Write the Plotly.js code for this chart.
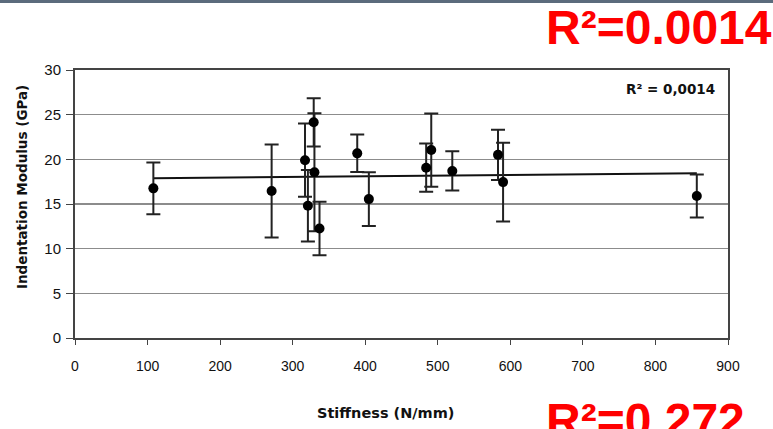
<!DOCTYPE html>
<html>
<head>
<meta charset="utf-8">
<script src="https://cdn.plot.ly/plotly-3.0.1.min.js"></script>
<style>html,body{margin:0;padding:0;background:#fff;}#chart{width:773px;height:429px;}</style>
</head>
<body>
<div id="chart"></div>
<script>
// Data
const stiffness = [108, 271, 317, 321, 329, 330, 337, 389, 405, 484, 491, 520, 583, 590, 857];
const modulus   = [16.75, 16.45, 19.9, 14.8, 24.15, 18.55, 12.26, 20.67, 15.55, 19.06, 21.04, 18.7, 20.5, 17.45, 15.9];
const modulusErr = [2.9, 5.2, 4.1, 4.0, 2.7, 6.6, 3.0, 2.1, 3.0, 2.7, 4.1, 2.2, 2.8, 4.4, 2.4];
const xTicks = [0, 100, 200, 300, 400, 500, 600, 700, 800, 900];
const yTicks = [0, 5, 10, 15, 20, 25, 30];
const xTitle = 'Stiffness (N/mm)';
const yTitle = 'Indentation Modulus (GPa)';
const r2Inner = 'R² = 0,0014';
const r2Top = 'R²=0.0014';
const r2Bottom = 'R²=0.272';

// Linear least-squares trendline computed from the data
const n = stiffness.length;
const mx = stiffness.reduce((a, b) => a + b, 0) / n;
const my = modulus.reduce((a, b) => a + b, 0) / n;
let sxy = 0, sxx = 0;
for (let i = 0; i < n; i++) { sxy += (stiffness[i] - mx) * (modulus[i] - my); sxx += (stiffness[i] - mx) ** 2; }
const slope = sxy / sxx, icpt = my - slope * mx;
const tx = [Math.min(...stiffness), Math.max(...stiffness)];
const ty = tx.map(v => icpt + slope * v);

const FONT = 'Liberation Sans, Arial, sans-serif';
const WIDE = 'DejaVu Sans, Verdana, sans-serif';

const traces = [
  { x: tx, y: ty, mode: 'lines', type: 'scatter', line: { color: '#111', width: 2 }, hoverinfo: 'skip', showlegend: false },
  { x: stiffness, y: modulus, mode: 'markers', type: 'scatter',
    marker: { color: '#000', size: 10 },
    error_y: { type: 'data', array: modulusErr, visible: true, color: '#222', thickness: 2, width: 7 },
    showlegend: false }
];

const layout = {
  width: 773, height: 429,
  margin: { l: 75, r: 45, t: 70, b: 91 },
  paper_bgcolor: '#fff', plot_bgcolor: '#fff',
  font: { family: FONT, color: '#111' },
  showlegend: false,
  xaxis: {
    range: [0, 900], tickvals: xTicks, ticktext: xTicks.map(String),
    ticks: 'outside', ticklen: 5, tickcolor: '#444', tickwidth: 1,
    ticklabelstandoff: 9,
    showline: true, linecolor: '#444', linewidth: 2, mirror: true,
    showgrid: false, zeroline: false,
    tickfont: { family: FONT, size: 14, color: '#111' }
  },
  yaxis: {
    range: [0, 30], tickvals: yTicks, ticktext: yTicks.map(String),
    ticks: 'outside', ticklen: 7, tickcolor: '#444', tickwidth: 1,
    ticklabelstandoff: 2,
    showline: true, linecolor: '#444', linewidth: 2, mirror: true,
    showgrid: true, gridcolor: '#8c8c8c', gridwidth: 1.5, zeroline: false,
    tickfont: { family: FONT, size: 15, color: '#111' }
  },
  shapes: [
    { type: 'rect', xref: 'paper', yref: 'paper', x0: -0.2, x1: 1.2, y0: 1.25, y1: 1.27, fillcolor: '#5b6b7c', line: { width: 0 } }
  ],
  annotations: [
    { text: '<b>' + xTitle + '</b>', xref: 'paper', yref: 'paper', x: 0.476, y: -0.28, xanchor: 'center', yanchor: 'middle', showarrow: false, font: { family: WIDE, size: 14.5, color: '#111' } },
    { text: '<b>' + yTitle + '</b>', xref: 'paper', yref: 'paper', x: -0.082, y: 0.565, xanchor: 'center', yanchor: 'middle', textangle: -90, showarrow: false, font: { family: WIDE, size: 13.5, color: '#111' } },
    { text: '<b>' + r2Inner + '</b>', xref: 'paper', yref: 'paper', x: 0.983, y: 0.929, xanchor: 'right', yanchor: 'middle', showarrow: false, font: { family: WIDE, size: 13.5, color: '#111' } },
    { text: '<b>' + r2Top + '</b>', xref: 'paper', yref: 'paper', x: 0.718, y: 1.1586, xanchor: 'left', yanchor: 'middle', showarrow: false, font: { family: FONT, size: 48, color: '#ff0000' } },
    { text: '<b>' + r2Bottom + '</b>', xref: 'paper', yref: 'paper', x: 0.718, y: -0.306, xanchor: 'left', yanchor: 'middle', showarrow: false, font: { family: FONT, size: 48, color: '#ff0000' } }
  ]
};

Plotly.newPlot('chart', traces, layout, { displayModeBar: false, staticPlot: true });
</script>
</body>
</html>
